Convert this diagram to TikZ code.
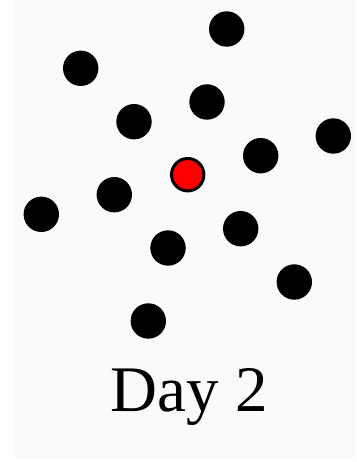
\documentclass[tikz,border=0pt]{standalone}
\usepackage{fontspec}
\setmainfont{Liberation Serif}
\usepackage{xcolor}
\usepackage{tikz}
\usetikzlibrary{positioning}

\definecolor{paper}{HTML}{FAFAFA}

\begin{document}
\begin{tikzpicture}[
  x=1pt, y=-1pt,
  dot/.style={circle, fill=black, inner sep=0pt, minimum size=35.4pt},
  focus/.style={circle, draw=black, fill=red, line width=3pt, inner sep=0pt, minimum size=32.4pt},
  caption/.style={font=\fontsize{65}{65}\selectfont, inner sep=0pt}
]
\useasboundingbox (0,0) rectangle (356,462);
\fill[paper] (13,0) rectangle (356,458);
\node[dot] (d1) at (226.7,29) {};
\node[dot] (d2) at (80.7,68.3) {};
\node[dot] (d3) at (207,102) {};
\node[dot] (d4) at (134,121.7) {};
\node[dot] (d5) at (333.3,136) {};
\node[dot] (d6) at (260.7,155.7) {};
\node[focus] (c) at (187.7,174.7) {};
\node[dot] (d7) at (114.3,194.7) {};
\node[dot] (d8) at (41.3,214.3) {};
\node[dot] (d9) at (240.7,228.7) {};
\node[dot] (d10) at (168,248) {};
\node[dot] (d11) at (294.3,282) {};
\node[dot] (d12) at (148.3,321) {};
\node[caption, anchor=base] (day) at (189,411.5) {Day 2};
\end{tikzpicture}
\end{document}
